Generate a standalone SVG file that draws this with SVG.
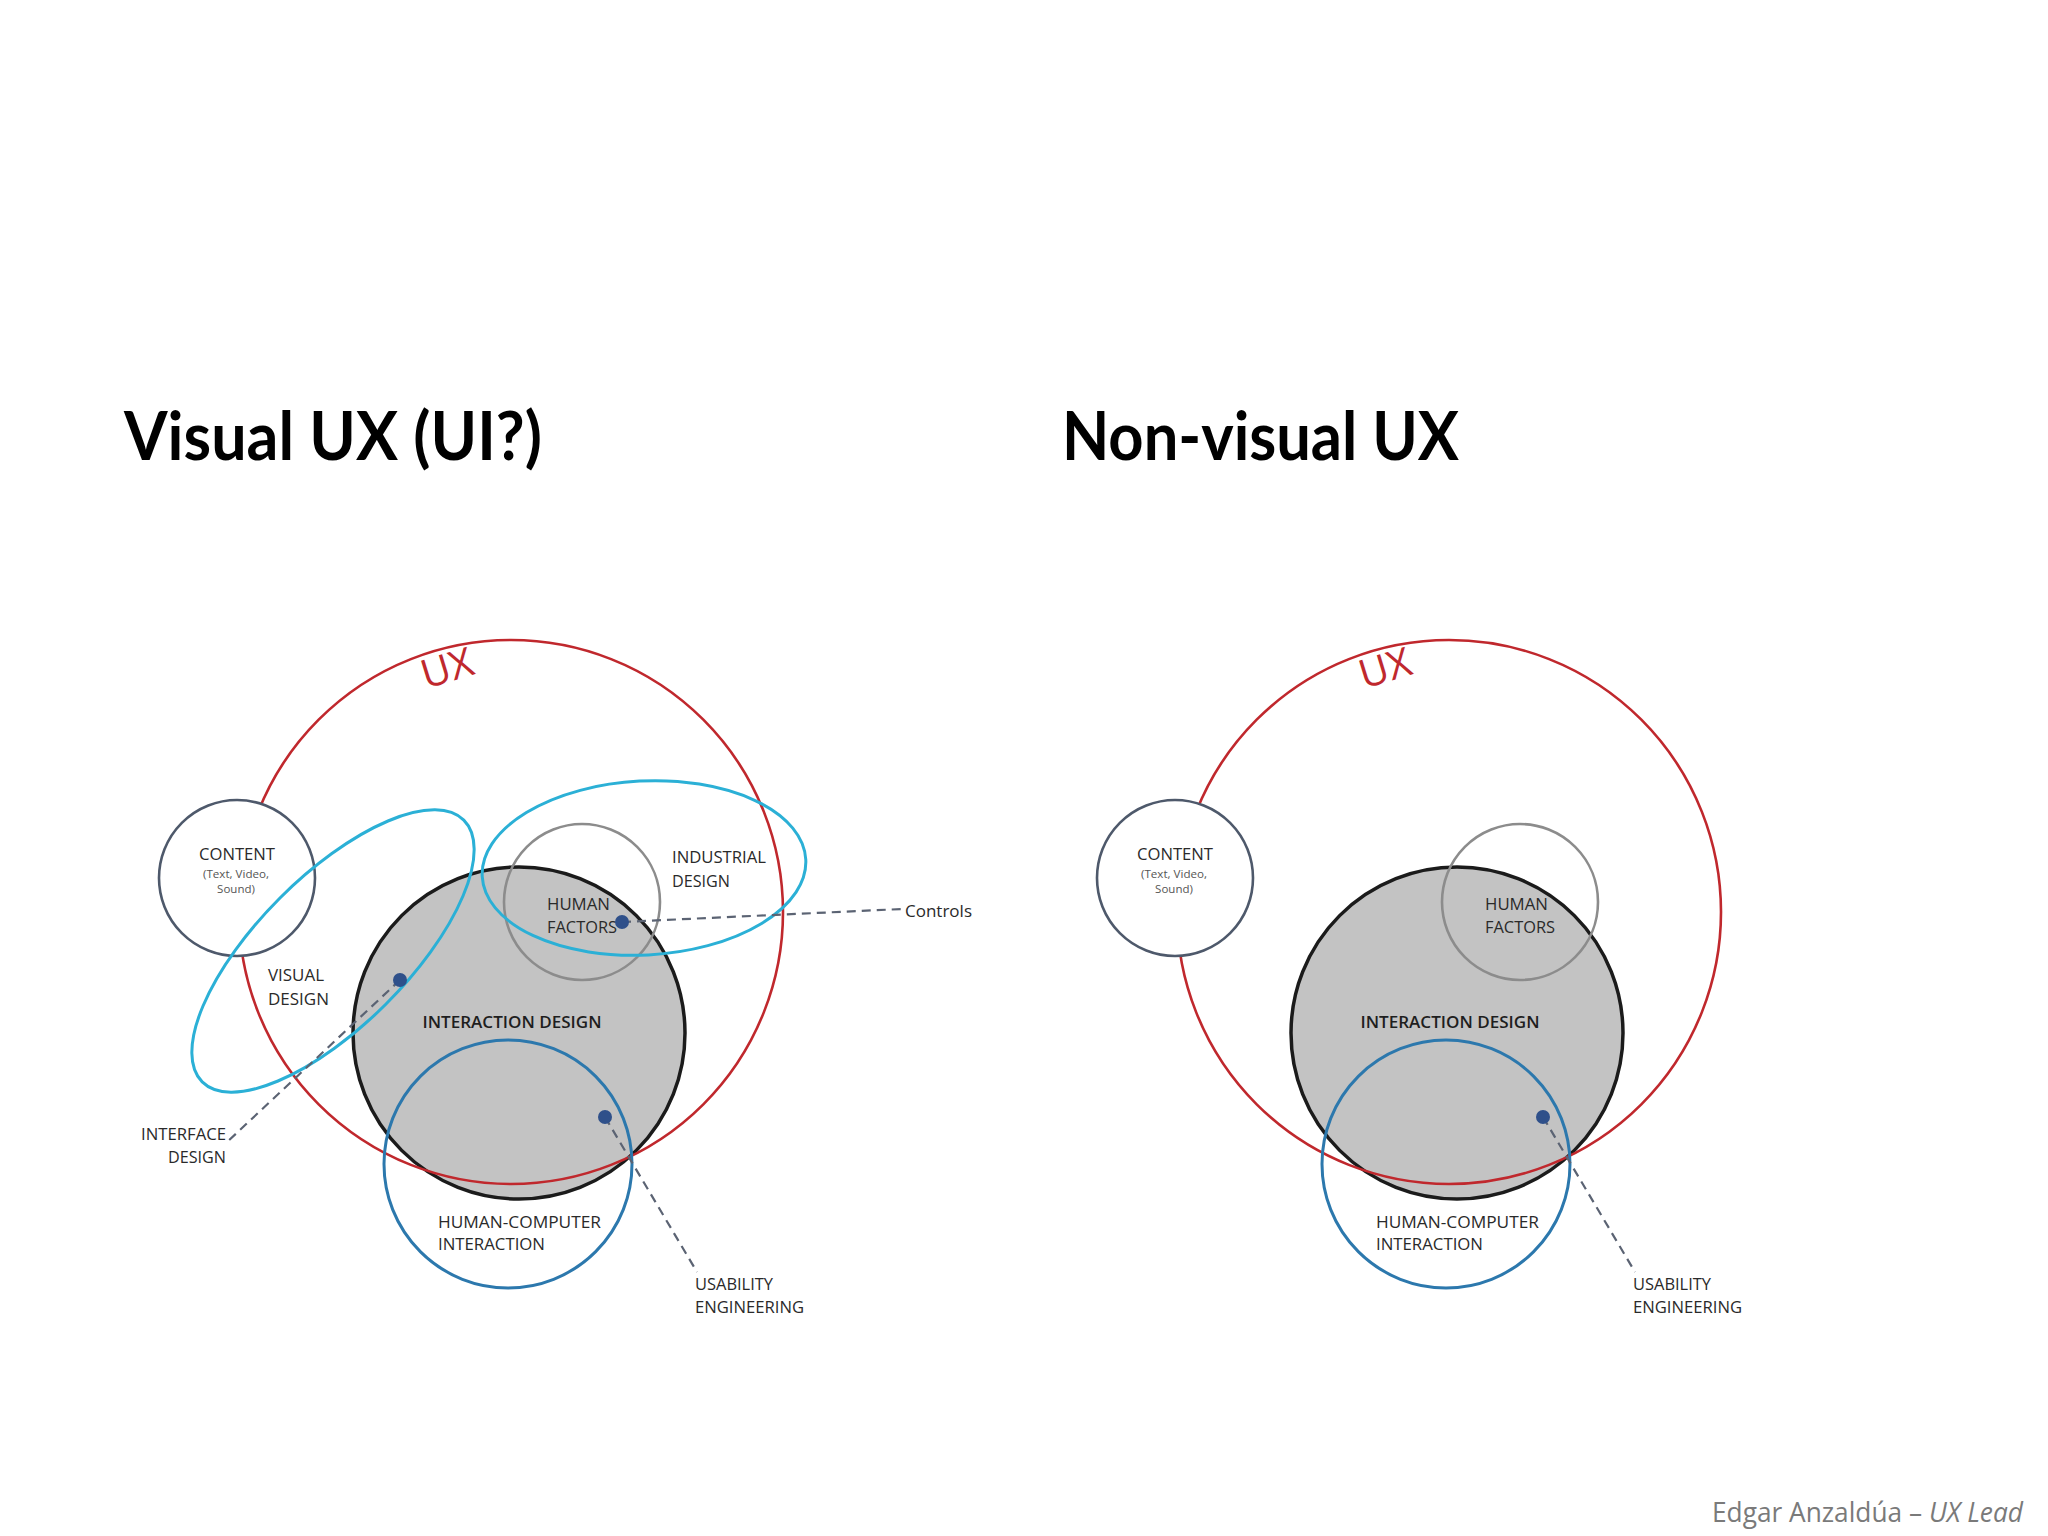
<svg xmlns="http://www.w3.org/2000/svg" width="2048" height="1536" viewBox="0 0 2048 1536">
<style>
.title{font-family:Lato,"Open Sans",sans-serif;font-weight:bold;font-size:66px;fill:#000}
.lbl{font-family:"Open Sans","DejaVu Sans",sans-serif;font-size:16.5px;fill:#2a2a2a}
.lblb{font-family:"Open Sans","DejaVu Sans",sans-serif;font-size:16.5px;font-weight:600;fill:#1e1e1e}
.small{font-family:"Open Sans","DejaVu Sans",sans-serif;font-size:11.5px;fill:#555}
.ux{font-family:"Open Sans","DejaVu Sans",sans-serif;font-size:40px;fill:#c0282d}
.foot{font-family:"Open Sans","DejaVu Sans",sans-serif;font-size:27px;fill:#7a7a7a}
.red{fill:none;stroke:#c0282d;stroke-width:2.6}
.content{fill:#fff;stroke:#4e596b;stroke-width:2.6}
.inter{fill:#c3c3c3;stroke:#1b1b1b;stroke-width:3.5}
.hf{fill:none;stroke:#8c8c8c;stroke-width:2.6}
.cyan{fill:none;stroke:#2bb0d6;stroke-width:3}
.hci{fill:none;stroke:#2c78ad;stroke-width:3}
.dash{fill:none;stroke:#5b6373;stroke-width:2.2;stroke-dasharray:9 6}
.dot{fill:#2f508a}
</style>
<rect width="2048" height="1536" fill="#fff"/>
<text class="title" x="124" y="460" textLength="418" lengthAdjust="spacingAndGlyphs">Visual UX (UI?)</text>
<text class="title" x="1062" y="460" textLength="397" lengthAdjust="spacingAndGlyphs">Non-visual UX</text>
<text class="foot" x="1712" y="1522" textLength="311" lengthAdjust="spacingAndGlyphs">Edgar Anzaldúa – <tspan font-style="italic">UX Lead</tspan></text>

<!-- LEFT DIAGRAM -->
<g id="left-interaction"><circle class="inter" cx="519" cy="1033" r="166"/></g>
<g id="left-ux"><circle class="red" cx="511" cy="912" r="272"/>
<text class="ux" x="447" y="682" text-anchor="middle" transform="rotate(-17 447 668)">UX</text></g>
<g id="left-content"><circle class="content" cx="237" cy="878" r="78"/>
<text class="lbl" x="237" y="860" text-anchor="middle" textLength="76" lengthAdjust="spacingAndGlyphs">CONTENT</text>
<text class="small" x="236" y="878" text-anchor="middle" textLength="66" lengthAdjust="spacingAndGlyphs">(Text, Video,</text>
<text class="small" x="236" y="893" text-anchor="middle">Sound)</text></g>
<g id="left-humanfactors"><circle class="hf" cx="582" cy="902" r="78"/></g>
<g id="left-visual"><ellipse class="cyan" cx="333" cy="951" rx="185" ry="75" transform="rotate(-45 333 951)"/>
<text class="lbl" x="268" y="981" textLength="56" lengthAdjust="spacingAndGlyphs">VISUAL</text>
<text class="lbl" x="268" y="1005" textLength="61" lengthAdjust="spacingAndGlyphs">DESIGN</text></g>
<g id="left-industrial"><ellipse class="cyan" cx="644" cy="868" rx="162" ry="87" transform="rotate(-3 644 868)"/>
<text class="lbl" x="672" y="863" textLength="94" lengthAdjust="spacingAndGlyphs">INDUSTRIAL</text>
<text class="lbl" x="672" y="887" textLength="58" lengthAdjust="spacingAndGlyphs">DESIGN</text></g>
<g id="left-hci"><circle class="hci" cx="508" cy="1164" r="124"/>
<text class="lbl" x="438" y="1228" textLength="163" lengthAdjust="spacingAndGlyphs">HUMAN-COMPUTER</text>
<text class="lbl" x="438" y="1250" textLength="107" lengthAdjust="spacingAndGlyphs">INTERACTION</text></g>
<g id="left-hf-label">
<text class="lbl" x="547" y="910" textLength="63" lengthAdjust="spacingAndGlyphs">HUMAN</text>
<text class="lbl" x="547" y="933" textLength="70" lengthAdjust="spacingAndGlyphs">FACTORS</text></g>
<g id="left-interaction-label"><text class="lblb" x="512" y="1028" text-anchor="middle" textLength="179" lengthAdjust="spacingAndGlyphs">INTERACTION DESIGN</text></g>

<g id="left-connectors">
<line class="dash" x1="622" y1="922" x2="902" y2="909"/>
<line class="dash" x1="400" y1="980" x2="226" y2="1143"/>
<line class="dash" x1="605" y1="1117" x2="697" y2="1272"/>
</g>
<g id="left-dots">
<circle class="dot" cx="622" cy="922" r="7"/>
<circle class="dot" cx="400" cy="980" r="7"/>
<circle class="dot" cx="605" cy="1117" r="7"/>
</g>
<g id="left-controls"><text class="lbl" x="905" y="917" textLength="67" lengthAdjust="spacingAndGlyphs">Controls</text></g>
<g id="left-interface"><text class="lbl" x="226" y="1140" text-anchor="end" textLength="85" lengthAdjust="spacingAndGlyphs">INTERFACE</text>
<text class="lbl" x="226" y="1163" text-anchor="end" textLength="58" lengthAdjust="spacingAndGlyphs">DESIGN</text></g>
<g id="left-usability"><text class="lbl" x="695" y="1290" textLength="78" lengthAdjust="spacingAndGlyphs">USABILITY</text>
<text class="lbl" x="695" y="1313" textLength="109" lengthAdjust="spacingAndGlyphs">ENGINEERING</text></g>

<!-- RIGHT DIAGRAM -->
<g transform="translate(938 0)">
<g id="right-interaction"><circle class="inter" cx="519" cy="1033" r="166"/></g>
<g id="right-ux"><circle class="red" cx="511" cy="912" r="272"/>
<text class="ux" x="447" y="682" text-anchor="middle" transform="rotate(-17 447 668)">UX</text></g>
<g id="right-content"><circle class="content" cx="237" cy="878" r="78"/>
<text class="lbl" x="237" y="860" text-anchor="middle" textLength="76" lengthAdjust="spacingAndGlyphs">CONTENT</text>
<text class="small" x="236" y="878" text-anchor="middle" textLength="66" lengthAdjust="spacingAndGlyphs">(Text, Video,</text>
<text class="small" x="236" y="893" text-anchor="middle">Sound)</text></g>
<g id="right-humanfactors"><circle class="hf" cx="582" cy="902" r="78"/>
<text class="lbl" x="547" y="910" textLength="63" lengthAdjust="spacingAndGlyphs">HUMAN</text>
<text class="lbl" x="547" y="933" textLength="70" lengthAdjust="spacingAndGlyphs">FACTORS</text></g>
<g id="right-hci"><circle class="hci" cx="508" cy="1164" r="124"/>
<text class="lbl" x="438" y="1228" textLength="163" lengthAdjust="spacingAndGlyphs">HUMAN-COMPUTER</text>
<text class="lbl" x="438" y="1250" textLength="107" lengthAdjust="spacingAndGlyphs">INTERACTION</text></g>
<g id="right-interaction-label"><text class="lblb" x="512" y="1028" text-anchor="middle" textLength="179" lengthAdjust="spacingAndGlyphs">INTERACTION DESIGN</text></g>
<g id="right-connectors"><line class="dash" x1="605" y1="1117" x2="697" y2="1272"/></g>
<g id="right-dots"><circle class="dot" cx="605" cy="1117" r="7"/></g>
<g id="right-usability"><text class="lbl" x="695" y="1290" textLength="78" lengthAdjust="spacingAndGlyphs">USABILITY</text>
<text class="lbl" x="695" y="1313" textLength="109" lengthAdjust="spacingAndGlyphs">ENGINEERING</text></g>
</g>
</svg>
